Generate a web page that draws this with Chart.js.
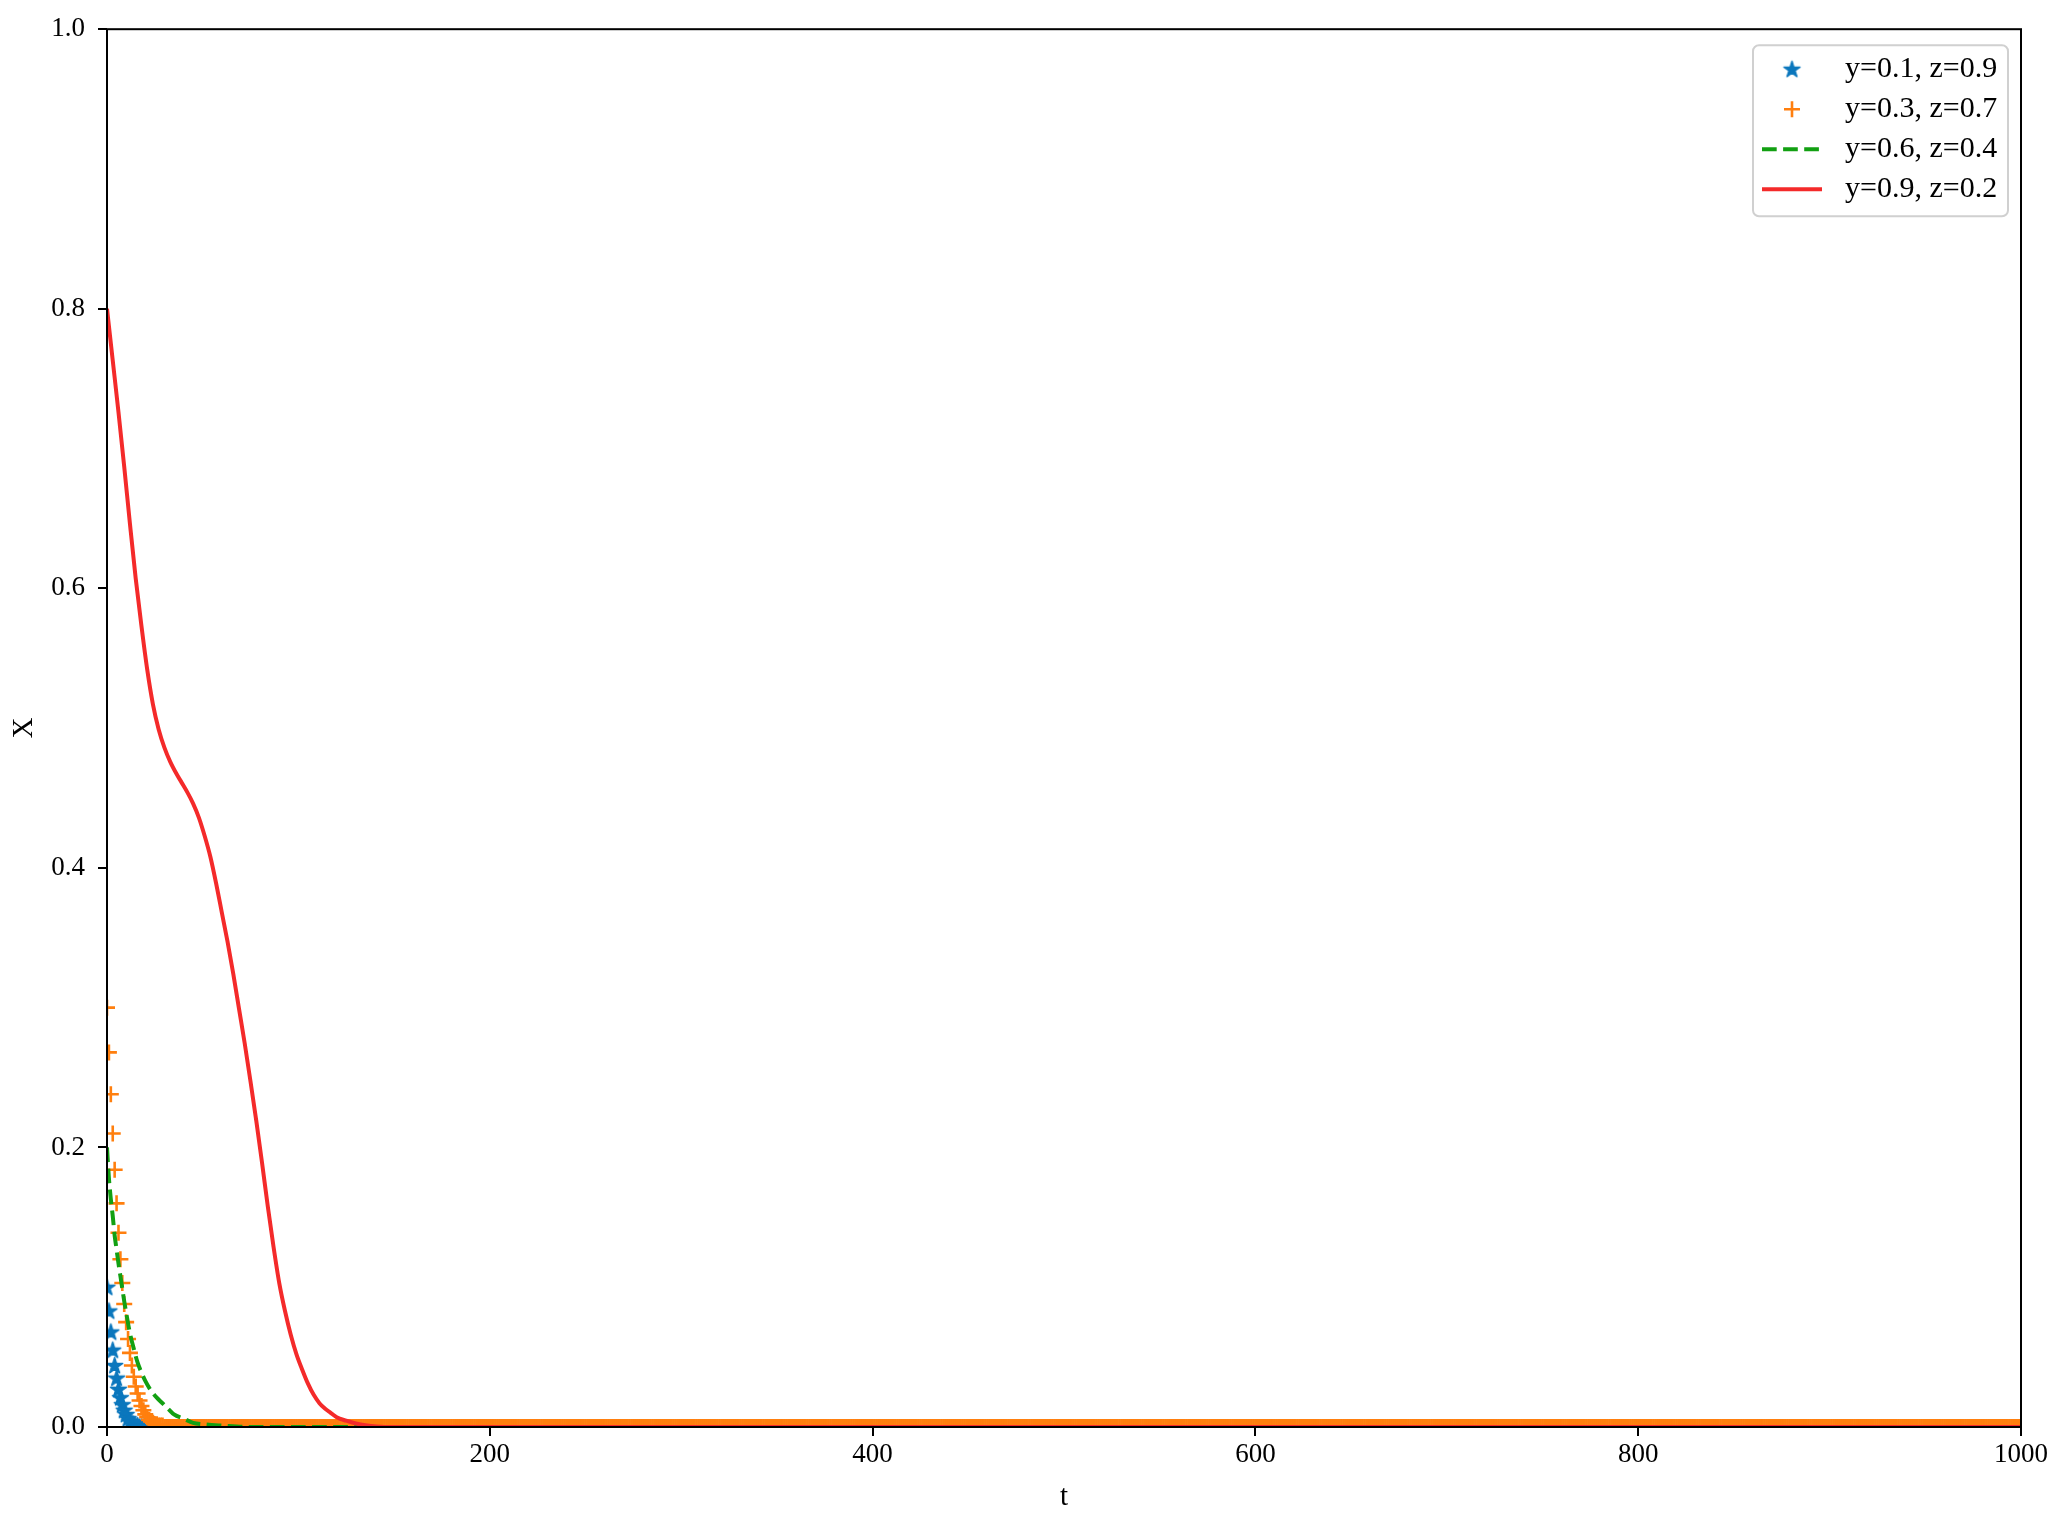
<!DOCTYPE html>
<html>
<head>
<meta charset="utf-8">
<script src="https://cdn.jsdelivr.net/npm/chart.js@4.4.1/dist/chart.umd.min.js"></script>
<style>
html, body { margin: 0; padding: 0; background: #ffffff; }
canvas { display: block; }
</style>
</head>
<body>
<canvas id="c" width="2062" height="1533"></canvas>
<script>
// ---------------- data ----------------
const seriesLabels = ['y=0.1, z=0.9', 'y=0.3, z=0.7', 'y=0.6, z=0.4', 'y=0.9, z=0.2'];
const xTicks = [0, 200, 400, 600, 800, 1000];
const yTicks = [0.0, 0.2, 0.4, 0.6, 0.8, 1.0];

// sampling times of the marker series (t = 0 .. 1000, step 1)
const tGrid = Array.from({ length: 1001 }, (_, i) => i);

// y=0.1, z=0.9  (star markers), values at t = 0,1,2,...
const blueX = [0.100, 0.083, 0.068, 0.055, 0.044, 0.035, 0.027, 0.021, 0.016, 0.012,
               0.009, 0.006, 0.004, 0.003, 0.002, 0.001, 0.001, 0, 0, 0, 0];

// y=0.3, z=0.7  (plus markers), values at t = 0,1,2,...,1000
const orangeX = [0.300, 0.268, 0.238, 0.210, 0.184, 0.160, 0.139, 0.120, 0.103, 0.088,
                 0.075, 0.063, 0.053, 0.044, 0.036, 0.029, 0.024, 0.019, 0.015, 0.012,
                 0.009, 0.007, 0.005, 0.004, 0.003, 0.002, 0.002, 0.001, 0.001, 0.001, 0,
0,0,0,0,0,0,0,0,0,0,0,0,0,0,0,0,0,0,0,0,0,0,0,0,0,0,0,0,0,0,0,0,0,0,0,0,0,0,0,0,0,0,0,0,0,0,0,0,0,0,
0,0,0,0,0,0,0,0,0,0,0,0,0,0,0,0,0,0,0,0,0,0,0,0,0,0,0,0,0,0,0,0,0,0,0,0,0,0,0,0,0,0,0,0,0,0,0,0,0,0,
0,0,0,0,0,0,0,0,0,0,0,0,0,0,0,0,0,0,0,0,0,0,0,0,0,0,0,0,0,0,0,0,0,0,0,0,0,0,0,0,0,0,0,0,0,0,0,0,0,0,
0,0,0,0,0,0,0,0,0,0,0,0,0,0,0,0,0,0,0,0,0,0,0,0,0,0,0,0,0,0,0,0,0,0,0,0,0,0,0,0,0,0,0,0,0,0,0,0,0,0,
0,0,0,0,0,0,0,0,0,0,0,0,0,0,0,0,0,0,0,0,0,0,0,0,0,0,0,0,0,0,0,0,0,0,0,0,0,0,0,0,0,0,0,0,0,0,0,0,0,0,
0,0,0,0,0,0,0,0,0,0,0,0,0,0,0,0,0,0,0,0,0,0,0,0,0,0,0,0,0,0,0,0,0,0,0,0,0,0,0,0,0,0,0,0,0,0,0,0,0,0,
0,0,0,0,0,0,0,0,0,0,0,0,0,0,0,0,0,0,0,0,0,0,0,0,0,0,0,0,0,0,0,0,0,0,0,0,0,0,0,0,0,0,0,0,0,0,0,0,0,0,
0,0,0,0,0,0,0,0,0,0,0,0,0,0,0,0,0,0,0,0,0,0,0,0,0,0,0,0,0,0,0,0,0,0,0,0,0,0,0,0,0,0,0,0,0,0,0,0,0,0,
0,0,0,0,0,0,0,0,0,0,0,0,0,0,0,0,0,0,0,0,0,0,0,0,0,0,0,0,0,0,0,0,0,0,0,0,0,0,0,0,0,0,0,0,0,0,0,0,0,0,
0,0,0,0,0,0,0,0,0,0,0,0,0,0,0,0,0,0,0,0,0,0,0,0,0,0,0,0,0,0,0,0,0,0,0,0,0,0,0,0,0,0,0,0,0,0,0,0,0,0,
0,0,0,0,0,0,0,0,0,0,0,0,0,0,0,0,0,0,0,0,0,0,0,0,0,0,0,0,0,0,0,0,0,0,0,0,0,0,0,0,0,0,0,0,0,0,0,0,0,0,
0,0,0,0,0,0,0,0,0,0,0,0,0,0,0,0,0,0,0,0,0,0,0,0,0,0,0,0,0,0,0,0,0,0,0,0,0,0,0,0,0,0,0,0,0,0,0,0,0,0,
0,0,0,0,0,0,0,0,0,0,0,0,0,0,0,0,0,0,0,0,0,0,0,0,0,0,0,0,0,0,0,0,0,0,0,0,0,0,0,0,0,0,0,0,0,0,0,0,0,0,
0,0,0,0,0,0,0,0,0,0,0,0,0,0,0,0,0,0,0,0,0,0,0,0,0,0,0,0,0,0,0,0,0,0,0,0,0,0,0,0,0,0,0,0,0,0,0,0,0,0,
0,0,0,0,0,0,0,0,0,0,0,0,0,0,0,0,0,0,0,0,0,0,0,0,0,0,0,0,0,0,0,0,0,0,0,0,0,0,0,0,0,0,0,0,0,0,0,0,0,0,
0,0,0,0,0,0,0,0,0,0,0,0,0,0,0,0,0,0,0,0,0,0,0,0,0,0,0,0,0,0,0,0,0,0,0,0,0,0,0,0,0,0,0,0,0,0,0,0,0,0,
0,0,0,0,0,0,0,0,0,0,0,0,0,0,0,0,0,0,0,0,0,0,0,0,0,0,0,0,0,0,0,0,0,0,0,0,0,0,0,0,0,0,0,0,0,0,0,0,0,0,
0,0,0,0,0,0,0,0,0,0,0,0,0,0,0,0,0,0,0,0,0,0,0,0,0,0,0,0,0,0,0,0,0,0,0,0,0,0,0,0,0,0,0,0,0,0,0,0,0,0,
0,0,0,0,0,0,0,0,0,0,0,0,0,0,0,0,0,0,0,0,0,0,0,0,0,0,0,0,0,0,0,0,0,0,0,0,0,0,0,0,0,0,0,0,0,0,0,0,0,0,
0,0,0,0,0,0,0,0,0,0,0,0,0,0,0,0,0,0,0,0,0,0,0,0,0,0,0,0,0,0,0,0,0,0,0,0,0,0,0,0,0,0,0,0,0,0,0,0,0,0];

// y=0.6, z=0.4  (dashed line)
const greenT = [0, 1, 2, 3, 4, 5, 6, 7, 8, 9, 10, 12, 14, 16, 18, 20, 23, 26, 29, 32, 35, 40, 45, 50, 60, 75, 1000];
const greenX = [0.200, 0.178, 0.163, 0.151, 0.137, 0.127, 0.117, 0.108, 0.099, 0.090, 0.082, 0.067, 0.056, 0.046,
                0.039, 0.033, 0.026, 0.021, 0.017, 0.013, 0.009, 0.006, 0.003, 0.002, 0.001, 0, 0];

// y=0.9, z=0.2  (solid line)
const redT = [0, 3, 6, 9, 12, 15, 18, 21, 24, 27, 30, 33, 36, 39, 42, 45, 48, 51, 54, 57, 60, 63, 66, 69, 72, 75,
              78, 81, 84, 87, 90, 93, 96, 99, 102, 105, 108, 111, 114, 117, 120, 125, 130, 135, 145, 1000];
const redX = [0.800, 0.763, 0.726, 0.687, 0.646, 0.607, 0.573, 0.542, 0.517, 0.499, 0.486, 0.476, 0.468, 0.461,
              0.454, 0.446, 0.436, 0.423, 0.408, 0.389, 0.368, 0.347, 0.324, 0.299, 0.274, 0.247, 0.219, 0.189,
              0.158, 0.129, 0.103, 0.083, 0.066, 0.052, 0.041, 0.031, 0.023, 0.017, 0.013, 0.010, 0.007, 0.0045,
              0.0025, 0.0012, 0, 0];

// ---------------- styles ----------------
const FONT = "'Liberation Serif', 'Times New Roman', serif";
const C_BLUE = '#0b77bd';
const C_ORANGE = '#ff7f0e';
const C_GREEN = '#12a012';
const C_RED = '#f42a2a';

function makeStar(r, color) {
  const s = Math.ceil(2 * r + 4);
  const cv = document.createElement('canvas');
  cv.width = s; cv.height = s;
  const g = cv.getContext('2d');
  g.translate(s / 2, s / 2 + 0.5);
  g.beginPath();
  for (let i = 0; i < 10; i++) {
    const a = -Math.PI / 2 + i * Math.PI / 5;
    const rr = (i % 2 === 0) ? r : r * 0.382;
    if (i === 0) g.moveTo(rr * Math.cos(a), rr * Math.sin(a));
    else g.lineTo(rr * Math.cos(a), rr * Math.sin(a));
  }
  g.closePath();
  g.fillStyle = color;
  g.fill();
  g.lineWidth = 1.4;
  g.lineJoin = 'round';
  g.strokeStyle = color;
  g.stroke();
  return cv;
}
const starImg = makeStar(8.5, C_BLUE);

const framePlugin = {
  id: 'frame',
  afterDatasetsDraw(chart) {
    const { ctx, chartArea: a } = chart;
    ctx.save();
    ctx.strokeStyle = '#000';
    ctx.lineWidth = 2;
    ctx.strokeRect(a.left, a.top, a.right - a.left, a.bottom - a.top);
    ctx.restore();
  }
};

const legendPlugin = {
  id: 'mplLegend',
  afterDraw(chart) {
    const { ctx, chartArea: a } = chart;
    const boxW = 255, boxH = 171, rad = 6;
    const x0 = a.right - 13 - boxW, y0 = a.top + 16;
    ctx.save();
    ctx.beginPath();
    ctx.moveTo(x0 + rad, y0);
    ctx.lineTo(x0 + boxW - rad, y0);
    ctx.arcTo(x0 + boxW, y0, x0 + boxW, y0 + rad, rad);
    ctx.lineTo(x0 + boxW, y0 + boxH - rad);
    ctx.arcTo(x0 + boxW, y0 + boxH, x0 + boxW - rad, y0 + boxH, rad);
    ctx.lineTo(x0 + rad, y0 + boxH);
    ctx.arcTo(x0, y0 + boxH, x0, y0 + boxH - rad, rad);
    ctx.lineTo(x0, y0 + rad);
    ctx.arcTo(x0, y0, x0 + rad, y0, rad);
    ctx.closePath();
    ctx.fillStyle = 'rgba(255,255,255,0.8)';
    ctx.fill();
    ctx.strokeStyle = '#d0d0d0';
    ctx.lineWidth = 2;
    ctx.stroke();

    const hx0 = x0 + 9, hx1 = x0 + 69, hxc = (hx0 + hx1) / 2, tx = x0 + 92;
    const rowY = [y0 + 24, y0 + 64, y0 + 104, y0 + 144];

    // star
    ctx.drawImage(starImg, hxc - starImg.width / 2, rowY[0] - starImg.height / 2);
    // plus
    ctx.strokeStyle = C_ORANGE; ctx.lineWidth = 2.6; ctx.lineCap = 'butt';
    ctx.beginPath();
    ctx.moveTo(hxc - 8, rowY[1]); ctx.lineTo(hxc + 8, rowY[1]);
    ctx.moveTo(hxc, rowY[1] - 8); ctx.lineTo(hxc, rowY[1] + 8);
    ctx.stroke();
    // dashed
    ctx.strokeStyle = C_GREEN; ctx.lineWidth = 4; ctx.setLineDash([14.7, 6.4]);
    ctx.beginPath(); ctx.moveTo(hx0, rowY[2]); ctx.lineTo(hx1, rowY[2]); ctx.stroke();
    ctx.setLineDash([]);
    // solid
    ctx.strokeStyle = C_RED; ctx.lineWidth = 4;
    ctx.beginPath(); ctx.moveTo(hx0, rowY[3]); ctx.lineTo(hx1, rowY[3]); ctx.stroke();

    ctx.fillStyle = '#000';
    ctx.font = '30px ' + FONT;
    ctx.textAlign = 'left';
    ctx.textBaseline = 'middle';
    seriesLabels.forEach((lab, i) => ctx.fillText(lab, tx, rowY[i]));
    ctx.restore();
  }
};

const toXY = (ts, vs) => ts.map((t, i) => ({ x: t, y: vs[i] }));

new Chart(document.getElementById('c'), {
  type: 'line',
  data: {
    labels: tGrid,
    datasets: [
      {
        label: seriesLabels[0], data: blueX, showLine: false,
        pointStyle: starImg, pointRadius: 8, pointHoverRadius: 8,
        borderColor: C_BLUE, backgroundColor: C_BLUE, order: 3, clip: 0
      },
      {
        label: seriesLabels[1], data: orangeX.slice(0, tGrid.length), showLine: false,
        pointStyle: 'cross', pointRadius: 8, pointHoverRadius: 8, pointBorderWidth: 2.6,
        borderColor: C_ORANGE, pointBorderColor: C_ORANGE, backgroundColor: C_ORANGE, order: 2, clip: 0
      },
      {
        label: seriesLabels[2], data: toXY(greenT, greenX), borderColor: C_GREEN, borderWidth: 4,
        borderDash: [14.7, 6.4], pointRadius: 0, cubicInterpolationMode: 'monotone', fill: false,
        order: 1, clip: 0
      },
      {
        label: seriesLabels[3], data: toXY(redT, redX), borderColor: C_RED, borderWidth: 4,
        pointRadius: 0, cubicInterpolationMode: 'monotone', fill: false, order: 0, clip: 0
      }
    ]
  },
  options: {
    responsive: false,
    animation: false,
    devicePixelRatio: 1,
    events: [],
    layout: { padding: { left: 0, top: 27, right: 41, bottom: 0 } },
    plugins: { legend: { display: false }, tooltip: { enabled: false } },
    scales: {
      x: {
        type: 'linear', min: 0, max: 1000,
        afterFit: s => { s.height = 106; },
        afterBuildTicks: s => { s.ticks = xTicks.map(v => ({ value: v })); },
        ticks: { font: { family: FONT, size: 27 }, color: '#000', padding: 3, maxRotation: 0, autoSkip: false,
                 callback: v => String(v) },
        grid: { drawOnChartArea: false, drawTicks: true, tickLength: 9, lineWidth: 2, color: '#000', tickColor: '#000' },
        border: { display: false },
        title: { display: true, text: 't', font: { family: FONT, size: 29 }, color: '#000', padding: { top: 0, bottom: 18 } }
      },
      y: {
        type: 'linear', min: 0, max: 1,
        afterFit: s => { s.width = 107; },
        afterBuildTicks: s => { s.ticks = yTicks.map(v => ({ value: v })); },
        ticks: { font: { family: FONT, size: 27 }, color: '#000', padding: 13, callback: v => Number(v).toFixed(1) },
        grid: { drawOnChartArea: false, drawTicks: true, tickLength: 9, lineWidth: 2, color: '#000', tickColor: '#000' },
        border: { display: false },
        title: { display: true, text: 'X', font: { family: FONT, size: 29 }, color: '#000', padding: { top: 7, bottom: 0 } }
      }
    }
  },
  plugins: [framePlugin, legendPlugin]
});
</script>
</body>
</html>
